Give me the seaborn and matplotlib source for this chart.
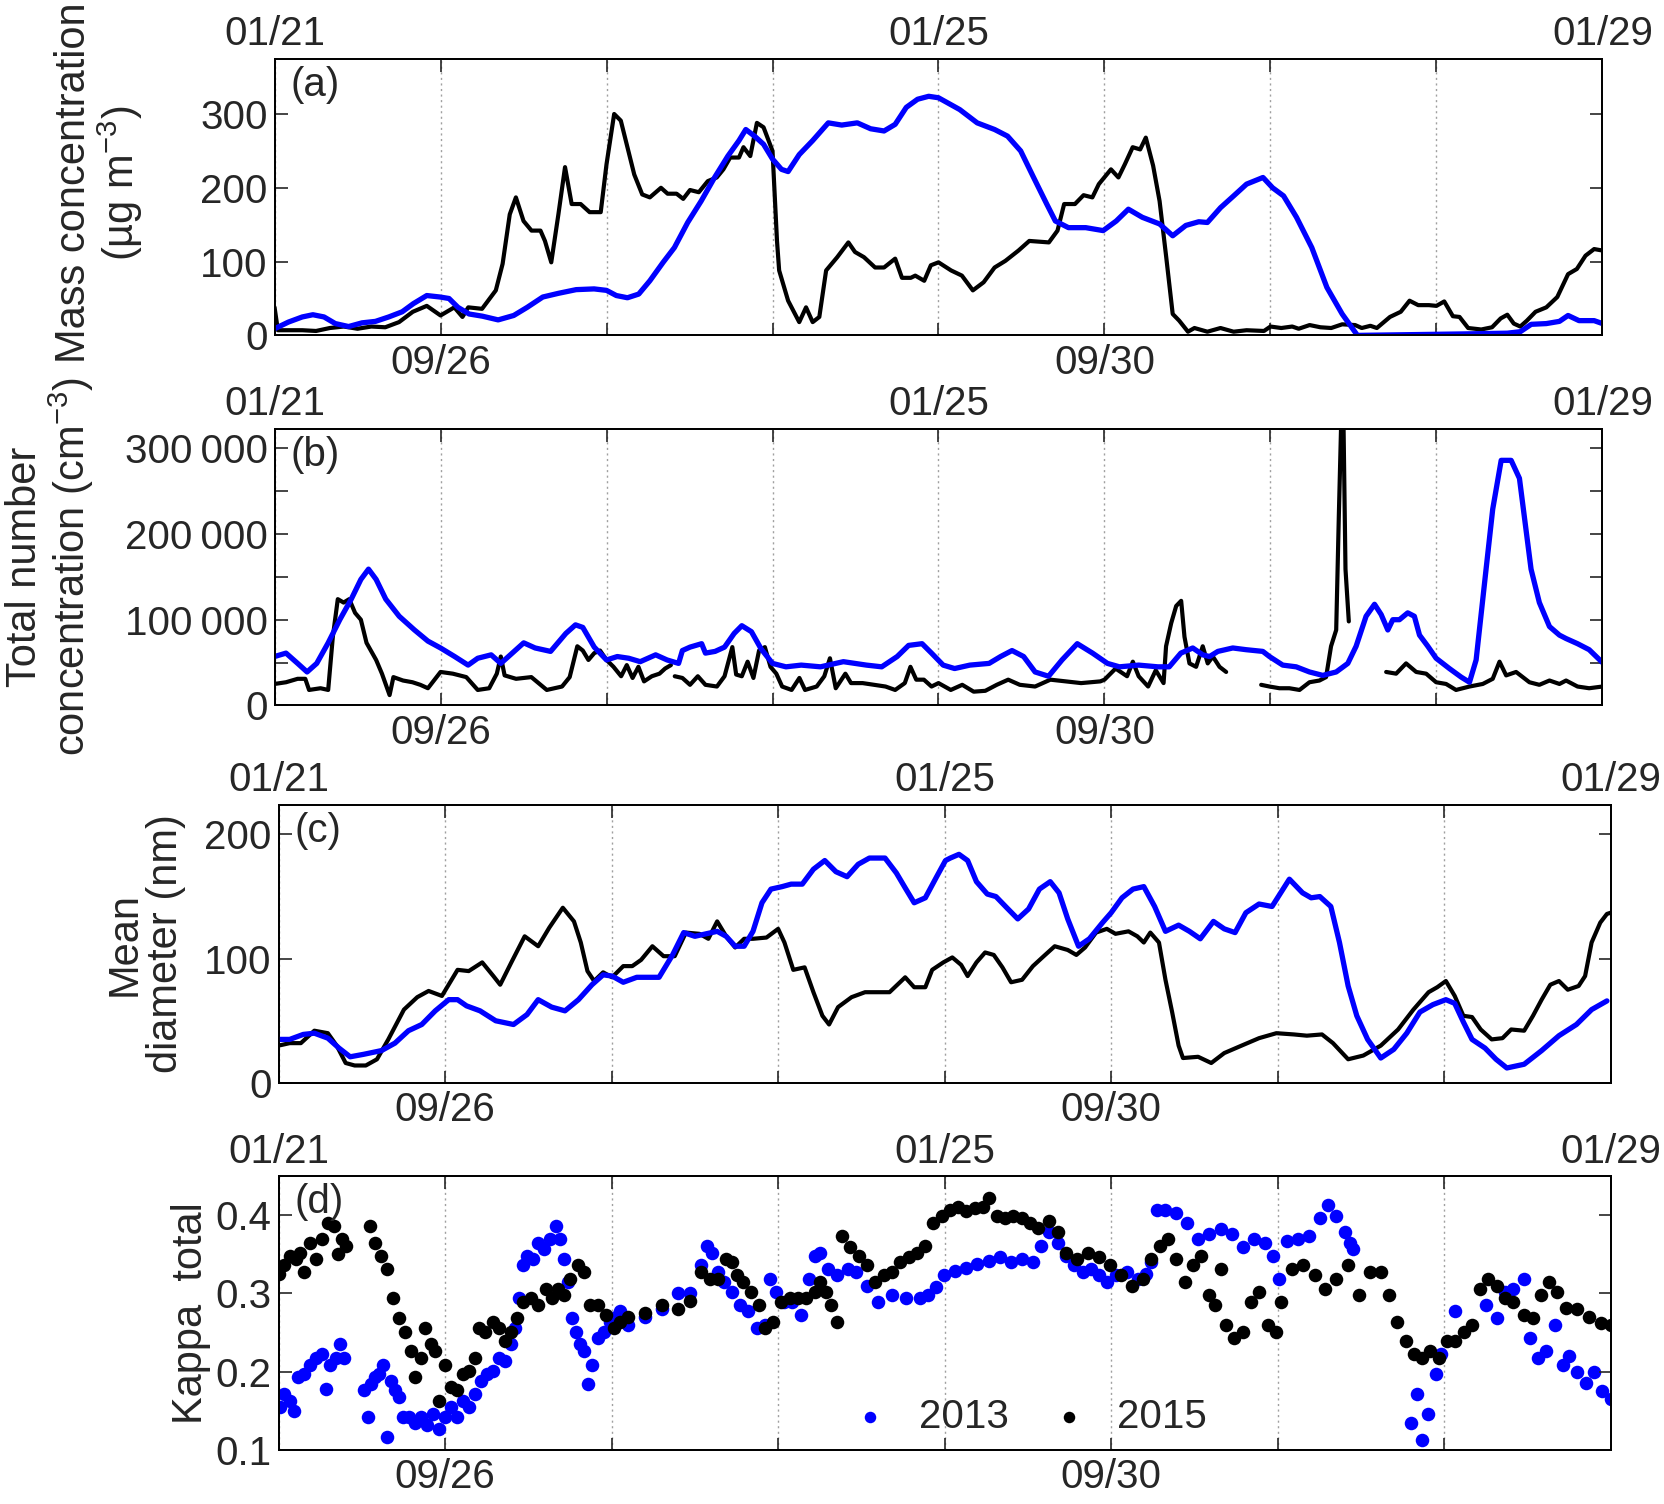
import numpy as np
import pandas as pd
import matplotlib
matplotlib.use("Agg")
import matplotlib.pyplot as plt
import matplotlib.dates as mdates
from matplotlib.ticker import MultipleLocator, FuncFormatter
import seaborn as sns

# time axis: days since the start of each campaign
START_2015 = pd.Timestamp("2015-09-25")
START_2013 = pd.Timestamp("2013-01-21")
BOTTOM_LABELS = ["09/26", "09/30"]
TOP_LABELS = ["01/21", "01/25", "01/29"]

# (a) mass concentration, ug m-3
mass_days_2015 = [0, 0.02, 0.083, 0.167, 0.25, 0.333, 0.417, 0.5, 0.583, 0.667,
                  0.75, 0.833, 0.917, 1.0, 1.083, 1.132, 1.167, 1.25, 1.333, 1.374,
                  1.417, 1.454, 1.5, 1.548, 1.602, 1.629, 1.667, 1.71, 1.75, 1.79,
                  1.844, 1.898, 1.965, 2.0, 2.046, 2.086, 2.126, 2.167, 2.215, 2.261,
                  2.328, 2.368, 2.422, 2.462, 2.503, 2.556, 2.61, 2.664, 2.704, 2.745,
                  2.798, 2.825, 2.866, 2.906, 2.946, 3.0, 3.027, 3.04, 3.094, 3.161,
                  3.202, 3.242, 3.282, 3.323, 3.39, 3.457, 3.497, 3.551, 3.618, 3.672,
                  3.739, 3.78, 3.833, 3.86, 3.914, 3.954, 4.0, 4.076, 4.141, 4.207,
                  4.272, 4.338, 4.403, 4.482, 4.547, 4.665, 4.717, 4.757, 4.822, 4.874,
                  4.927, 4.966, 5.039, 5.084, 5.123, 5.17, 5.215, 5.249, 5.293, 5.332,
                  5.372, 5.411, 5.45, 5.503, 5.542, 5.62, 5.699, 5.778, 5.856, 5.961,
                  6.0, 6.065, 6.131, 6.17, 6.236, 6.301, 6.366, 6.432, 6.51, 6.55,
                  6.602, 6.641, 6.72, 6.785, 6.838, 6.89, 6.955, 7.0, 7.047, 7.099,
                  7.139, 7.191, 7.27, 7.335, 7.387, 7.427, 7.466, 7.505, 7.545, 7.597,
                  7.662, 7.728, 7.793, 7.846, 7.898, 7.95, 8.0]
mass_2015 = [38, 7, 7, 7, 6, 10, 12, 9, 12, 11,
             18, 32, 40, 27, 38, 25, 38, 36, 61, 97,
             164, 187, 155, 142, 142, 128, 99, 164, 228, 178,
             178, 167, 167, 232, 300, 291, 255, 218, 191, 187,
             200, 192, 192, 185, 197, 194, 209, 214, 225, 241,
             241, 255, 243, 288, 282, 250, 128, 88, 47, 18,
             38, 18, 25, 88, 106, 126, 113, 106, 92, 92,
             104, 78, 78, 81, 74, 95, 99, 88, 81, 61,
             72, 92, 101, 115, 128, 126, 142, 178, 178, 190,
             187, 205, 225, 214, 232, 255, 252, 268, 230, 182,
             106, 29, 20, 5, 10, 5, 10, 5, 7, 6,
             12, 10, 12, 9, 14, 11, 10, 15, 14, 10,
             13, 10, 25, 32, 47, 41, 41, 40, 46, 26,
             25, 10, 8, 11, 23, 28, 16, 12, 20, 32,
             38, 52, 83, 90, 108, 117, 115]
mass_days_2013 = [0, 0.083, 0.167, 0.231, 0.298, 0.366, 0.446, 0.527, 0.608, 0.688,
                  0.769, 0.836, 0.917, 0.997, 1.051, 1.105, 1.172, 1.253, 1.347, 1.441,
                  1.522, 1.616, 1.71, 1.817, 1.925, 2.0, 2.059, 2.126, 2.194, 2.261,
                  2.341, 2.409, 2.489, 2.57, 2.651, 2.731, 2.798, 2.839, 2.892, 2.946,
                  3.0, 3.054, 3.094, 3.161, 3.242, 3.336, 3.417, 3.511, 3.591, 3.672,
                  3.739, 3.806, 3.874, 3.941, 4.0, 4.128, 4.233, 4.338, 4.416, 4.495,
                  4.573, 4.652, 4.704, 4.783, 4.887, 4.992, 5.071, 5.144, 5.228, 5.332,
                  5.411, 5.49, 5.568, 5.62, 5.699, 5.778, 5.856, 5.955, 6.013, 6.079,
                  6.157, 6.249, 6.34, 6.432, 6.524, 7.165, 7.427, 7.505, 7.571, 7.662,
                  7.741, 7.793, 7.859, 7.95, 8.0]
mass_2013 = [9, 18, 25, 28, 25, 16, 12, 17, 19, 25,
             32, 43, 54, 52, 50, 38, 29, 26, 21, 27,
             38, 52, 57, 62, 63, 61, 54, 51, 56, 74,
             99, 119, 153, 182, 214, 243, 264, 279, 270, 259,
             239, 225, 222, 245, 264, 288, 285, 288, 280, 277,
             286, 309, 320, 324, 322, 306, 288, 279, 270, 250,
             214, 178, 155, 146, 146, 142, 155, 171, 160, 151,
             135, 149, 154, 153, 173, 189, 205, 214, 200, 189,
             160, 119, 65, 29, 0, 2, 3, 5, 15, 16,
             19, 27, 20, 20, 16]

# (b) total number concentration, thousand cm-3 (NaN = data gap)
nan = np.nan
number_days_2015 = [0, 0.069, 0.139, 0.185, 0.208, 0.277, 0.323, 0.351, 0.381, 0.416,
                    0.45, 0.485, 0.52, 0.554, 0.612, 0.647, 0.693, 0.716, 0.774, 0.831,
                    0.878, 0.924, 1.0, 1.074, 1.155, 1.224, 1.293, 1.339, 1.363, 1.386,
                    1.455, 1.547, 1.64, 1.732, 1.778, 1.824, 1.857, 1.891, 1.926, 1.961,
                    2.0, 2.042, 2.088, 2.122, 2.157, 2.192, 2.226, 2.273, 2.319, 2.353,
                    2.388, nan, 2.411, 2.457, 2.503, 2.55, 2.596, 2.665, 2.711, 2.758,
                    2.781, 2.815, 2.85, 2.885, 2.919, 2.954, 2.988, 3.023, 3.058, 3.115,
                    3.162, 3.196, 3.266, 3.312, 3.346, 3.381, 3.439, 3.473, 3.543, 3.612,
                    3.681, 3.739, 3.797, 3.831, 3.866, 3.912, 3.958, 4.0, 4.074, 4.143,
                    4.212, 4.282, 4.351, 4.42, 4.49, 4.582, 4.674, 4.767, 4.859, 4.975,
                    5.0, 5.067, 5.136, 5.171, 5.206, 5.263, 5.309, 5.356, 5.371, 5.402,
                    5.432, 5.462, 5.482, 5.512, 5.552, 5.592, 5.622, 5.653, 5.693, 5.733,
                    nan, 5.944, 5.994, 6.054, 6.114, 6.175, 6.235, 6.295, 6.335, 6.365,
                    6.396, 6.412, 6.426, 6.44, 6.452, 6.472, nan, 6.697, 6.757, 6.817,
                    6.878, 6.938, 6.998, 7.058, 7.118, 7.199, 7.279, 7.339, 7.38, 7.42,
                    7.48, 7.56, 7.62, 7.681, 7.741, 7.781, 7.85, 7.92, 8.0]
number_2015 = [25, 27, 31, 31, 18, 20, 18, 80, 124, 120,
               124, 108, 100, 73, 53, 37, 12, 33, 29, 27,
               24, 20, 39, 37, 33, 18, 20, 37, 57, 35,
               31, 33, 18, 22, 33, 69, 64, 53, 61, 64,
               53, 45, 34, 47, 32, 45, 28, 34, 37, 43,
               47, nan, 34, 32, 24, 34, 24, 22, 34, 68,
               36, 34, 51, 32, 64, 68, 45, 37, 22, 18,
               32, 18, 22, 34, 55, 20, 37, 26, 26, 24,
               22, 18, 26, 45, 30, 30, 22, 26, 18, 24,
               16, 17, 24, 30, 24, 22, 30, 28, 26, 28,
               30, 43, 34, 51, 34, 22, 41, 26, 69, 96,
               116, 122, 80, 49, 45, 69, 49, 57, 45, 39,
               nan, 24, 22, 20, 20, 18, 27, 29, 33, 69,
               88, 222, 330, 330, 159, 98, nan, 39, 37, 49,
               39, 37, 27, 25, 18, 22, 25, 31, 51, 35,
               39, 27, 24, 29, 25, 29, 22, 20, 22]
number_days_2013 = [0, 0.069, 0.139, 0.196, 0.254, 0.323, 0.393, 0.462, 0.52, 0.566,
                    0.612, 0.67, 0.751, 0.843, 0.924, 1.0, 1.085, 1.166, 1.224, 1.305,
                    1.363, 1.432, 1.501, 1.57, 1.663, 1.755, 1.813, 1.857, 1.926, 2.0,
                    2.065, 2.134, 2.203, 2.296, 2.365, 2.434, 2.457, 2.503, 2.573, 2.596,
                    2.654, 2.711, 2.769, 2.815, 2.873, 2.931, 3.0, 3.081, 3.173, 3.289,
                    3.427, 3.566, 3.658, 3.751, 3.82, 3.901, 3.958, 4.028, 4.097, 4.189,
                    4.305, 4.374, 4.443, 4.513, 4.582, 4.663, 4.744, 4.836, 4.928, 5.018,
                    5.09, 5.206, 5.321, 5.39, 5.46, 5.532, 5.592, 5.633, 5.683, 5.773,
                    5.853, 5.954, 5.994, 6.074, 6.155, 6.235, 6.315, 6.396, 6.466, 6.516,
                    6.576, 6.627, 6.667, 6.707, 6.737, 6.777, 6.827, 6.867, 6.898, 6.948,
                    6.998, 7.078, 7.149, 7.199, 7.239, 7.299, 7.339, 7.39, 7.45, 7.5,
                    7.57, 7.62, 7.681, 7.741, 7.781, 7.85, 7.92, 8.0]
number_2013 = [57, 61, 49, 39, 49, 73, 100, 124, 147, 159,
               147, 124, 104, 88, 75, 67, 57, 47, 55, 59,
               49, 61, 73, 67, 63, 84, 94, 91, 68, 53,
               57, 55, 51, 59, 53, 49, 64, 68, 72, 61,
               63, 68, 84, 93, 86, 66, 49, 45, 47, 45,
               51, 47, 45, 57, 70, 72, 61, 47, 43, 47,
               49, 57, 64, 57, 39, 34, 53, 72, 61, 49,
               45, 47, 45, 45, 61, 67, 59, 57, 63, 67,
               65, 63, 57, 47, 45, 39, 35, 39, 49, 69,
               104, 118, 106, 88, 100, 100, 108, 104, 82, 69,
               55, 43, 33, 27, 53, 159, 229, 286, 286, 265,
               159, 120, 92, 82, 78, 72, 65, 50]

# (c) mean diameter, nm
diam_days_2015 = [0, 0.067, 0.134, 0.215, 0.296, 0.349, 0.403, 0.457, 0.524, 0.591,
                  0.659, 0.753, 0.833, 0.901, 0.981, 1.075, 1.142, 1.223, 1.29, 1.331,
                  1.398, 1.478, 1.559, 1.626, 1.707, 1.774, 1.815, 1.855, 1.895, 1.949,
                  2.003, 2.07, 2.124, 2.177, 2.245, 2.312, 2.379, 2.446, 2.527, 2.581,
                  2.634, 2.688, 2.742, 2.796, 2.849, 2.93, 3.0, 3.038, 3.091, 3.159,
                  3.212, 3.266, 3.306, 3.36, 3.441, 3.522, 3.602, 3.669, 3.763, 3.817,
                  3.884, 3.925, 3.992, 4.046, 4.099, 4.138, 4.191, 4.243, 4.295, 4.347,
                  4.399, 4.465, 4.53, 4.595, 4.661, 4.739, 4.791, 4.843, 4.909, 4.974,
                  5.026, 5.104, 5.157, 5.196, 5.235, 5.287, 5.326, 5.366, 5.405, 5.431,
                  5.522, 5.601, 5.679, 5.783, 5.888, 5.992, 6.097, 6.175, 6.266, 6.332,
                  6.423, 6.514, 6.619, 6.723, 6.815, 6.906, 6.958, 7.01, 7.063, 7.115,
                  7.167, 7.219, 7.285, 7.35, 7.402, 7.48, 7.533, 7.585, 7.637, 7.689,
                  7.742, 7.807, 7.846, 7.885, 7.937, 7.977, 8.0]
diam_2015 = [30, 32, 32, 42, 40, 30, 16, 14, 14, 19,
             35, 59, 69, 74, 70, 91, 90, 97, 86, 79,
             97, 118, 110, 125, 141, 130, 113, 90, 82, 89,
             85, 94, 94, 99, 110, 102, 102, 121, 120, 116,
             130, 118, 109, 116, 116, 117, 124, 113, 91, 93,
             73, 54, 47, 61, 69, 73, 73, 73, 85, 77,
             77, 91, 97, 101, 95, 86, 97, 105, 103, 93,
             81, 83, 94, 102, 110, 107, 103, 109, 121, 124,
             120, 122, 118, 113, 121, 113, 83, 57, 30, 20,
             21, 16, 24, 30, 36, 40, 39, 38, 39, 32,
             19, 22, 30, 43, 59, 73, 77, 82, 70, 54,
             53, 43, 35, 36, 43, 42, 54, 67, 79, 82,
             75, 78, 86, 113, 129, 136, 137]
diam_days_2013 = [0, 0.067, 0.148, 0.215, 0.296, 0.363, 0.43, 0.511, 0.618, 0.699,
                  0.78, 0.86, 0.941, 1.022, 1.075, 1.129, 1.21, 1.304, 1.411, 1.492,
                  1.559, 1.64, 1.72, 1.801, 1.882, 1.949, 2.003, 2.07, 2.151, 2.231,
                  2.285, 2.366, 2.433, 2.5, 2.567, 2.634, 2.688, 2.742, 2.796, 2.849,
                  2.903, 2.957, 3.024, 3.078, 3.145, 3.212, 3.28, 3.347, 3.414, 3.481,
                  3.548, 3.642, 3.71, 3.763, 3.817, 3.884, 3.952, 4.005, 4.034, 4.086,
                  4.138, 4.191, 4.256, 4.308, 4.373, 4.439, 4.504, 4.569, 4.634, 4.687,
                  4.739, 4.804, 4.869, 4.948, 5.0, 5.065, 5.131, 5.196, 5.261, 5.326,
                  5.405, 5.47, 5.535, 5.614, 5.679, 5.744, 5.809, 5.888, 5.966, 6.07,
                  6.149, 6.201, 6.253, 6.319, 6.371, 6.423, 6.475, 6.54, 6.619, 6.697,
                  6.775, 6.854, 6.932, 7.01, 7.063, 7.115, 7.167, 7.245, 7.311, 7.376,
                  7.48, 7.585, 7.689, 7.794, 7.885, 7.977]
diam_2013 = [35, 35, 39, 40, 36, 28, 21, 23, 26, 32,
             42, 47, 58, 67, 67, 62, 58, 50, 47, 55,
             67, 61, 58, 67, 79, 87, 86, 81, 85, 85,
             85, 103, 121, 118, 120, 122, 118, 110, 110, 122,
             145, 156, 158, 160, 160, 172, 179, 170, 166, 176,
             181, 181, 169, 157, 145, 149, 166, 179, 181, 184,
             179, 162, 152, 150, 141, 132, 140, 156, 162, 153,
             132, 110, 116, 129, 137, 149, 156, 158, 142, 122,
             127, 122, 116, 130, 124, 121, 137, 144, 142, 164,
             153, 149, 150, 142, 113, 78, 54, 35, 20, 27,
             40, 57, 63, 67, 64, 49, 35, 28, 19, 12,
             15, 26, 38, 47, 59, 66]

# (d) kappa total
kappa_days_2015 = [0, 0.033, 0.069, 0.105, 0.129, 0.153, 0.189, 0.224, 0.26, 0.296,
                   0.332, 0.356, 0.379, 0.403, 0.547, 0.582, 0.618, 0.654, 0.69, 0.726,
                   0.761, 0.797, 0.821, 0.857, 0.881, 0.916, 0.94, 0.964, 1.0, 1.036,
                   1.072, 1.107, 1.143, 1.179, 1.203, 1.239, 1.286, 1.322, 1.358, 1.394,
                   1.43, 1.465, 1.513, 1.561, 1.609, 1.644, 1.68, 1.716, 1.752, 1.8,
                   1.835, 1.871, 1.919, 1.967, 2.014, 2.05, 2.1, 2.2, 2.3, 2.4,
                   2.47, 2.539, 2.589, 2.638, 2.688, 2.721, 2.755, 2.788, 2.837, 2.887,
                   2.92, 2.97, 3.02, 3.07, 3.119, 3.169, 3.219, 3.252, 3.285, 3.318,
                   3.352, 3.385, 3.434, 3.484, 3.534, 3.584, 3.634, 3.683, 3.733, 3.783,
                   3.833, 3.882, 3.932, 3.982, 4.032, 4.081, 4.131, 4.181, 4.231, 4.264,
                   4.313, 4.363, 4.413, 4.463, 4.512, 4.562, 4.629, 4.678, 4.728, 4.794,
                   4.861, 4.927, 4.993, 5.06, 5.126, 5.192, 5.242, 5.292, 5.342, 5.391,
                   5.441, 5.491, 5.541, 5.59, 5.624, 5.657, 5.69, 5.74, 5.789, 5.839,
                   5.889, 5.939, 5.988, 6.022, 6.088, 6.154, 6.221, 6.287, 6.353, 6.42,
                   6.486, 6.552, 6.619, 6.668, 6.718, 6.768, 6.818, 6.867, 6.917, 6.967,
                   7.017, 7.066, 7.116, 7.166, 7.216, 7.265, 7.315, 7.365, 7.415, 7.481,
                   7.531, 7.58, 7.63, 7.68, 7.73, 7.8, 7.87, 7.94, 8.0]
kappa_2015 = [0.325, 0.336, 0.348, 0.344, 0.352, 0.327, 0.365, 0.344, 0.369, 0.39,
              0.386, 0.35, 0.369, 0.361, 0.386, 0.365, 0.348, 0.331, 0.294, 0.268,
              0.251, 0.226, 0.193, 0.218, 0.256, 0.235, 0.226, 0.163, 0.209, 0.18,
              0.176, 0.197, 0.201, 0.218, 0.256, 0.251, 0.264, 0.256, 0.239, 0.251,
              0.268, 0.289, 0.294, 0.285, 0.306, 0.294, 0.306, 0.298, 0.319, 0.336,
              0.327, 0.285, 0.285, 0.272, 0.256, 0.264, 0.27, 0.275, 0.285, 0.28,
              0.29, 0.327, 0.319, 0.319, 0.344, 0.34, 0.323, 0.315, 0.302, 0.285,
              0.256, 0.264, 0.289, 0.294, 0.294, 0.294, 0.302, 0.315, 0.302, 0.285,
              0.264, 0.373, 0.359, 0.348, 0.336, 0.315, 0.323, 0.327, 0.34, 0.346,
              0.352, 0.361, 0.39, 0.399, 0.407, 0.411, 0.405, 0.409, 0.411, 0.422,
              0.399, 0.397, 0.399, 0.397, 0.39, 0.384, 0.392, 0.378, 0.352, 0.344,
              0.352, 0.346, 0.336, 0.323, 0.31, 0.319, 0.344, 0.361, 0.369, 0.344,
              0.315, 0.336, 0.348, 0.298, 0.285, 0.331, 0.26, 0.243, 0.251, 0.289,
              0.302, 0.26, 0.251, 0.289, 0.331, 0.336, 0.323, 0.306, 0.319, 0.336,
              0.298, 0.327, 0.327, 0.298, 0.264, 0.239, 0.222, 0.218, 0.226, 0.218,
              0.239, 0.239, 0.251, 0.26, 0.306, 0.319, 0.31, 0.294, 0.289, 0.272,
              0.268, 0.298, 0.315, 0.302, 0.281, 0.28, 0.27, 0.262, 0.26]
kappa_days_2013 = [0.01, 0.033, 0.069, 0.093, 0.117, 0.153, 0.189, 0.224, 0.26, 0.284,
                   0.308, 0.344, 0.368, 0.391, 0.511, 0.535, 0.558, 0.582, 0.606, 0.63,
                   0.654, 0.678, 0.702, 0.726, 0.749, 0.785, 0.821, 0.857, 0.893, 0.928,
                   0.964, 1.0, 1.036, 1.072, 1.107, 1.143, 1.179, 1.215, 1.251, 1.286,
                   1.322, 1.358, 1.394, 1.418, 1.442, 1.465, 1.489, 1.525, 1.561, 1.597,
                   1.632, 1.668, 1.692, 1.716, 1.74, 1.764, 1.788, 1.811, 1.835, 1.859,
                   1.883, 1.919, 1.955, 1.99, 2.026, 2.05, 2.1, 2.2, 2.3, 2.4,
                   2.47, 2.539, 2.572, 2.605, 2.639, 2.672, 2.721, 2.771, 2.821, 2.871,
                   2.92, 2.954, 2.987, 3.036, 3.086, 3.136, 3.186, 3.219, 3.252, 3.302,
                   3.352, 3.418, 3.468, 3.534, 3.6, 3.683, 3.766, 3.849, 3.899, 3.949,
                   3.998, 4.065, 4.131, 4.197, 4.264, 4.33, 4.396, 4.463, 4.529, 4.579,
                   4.629, 4.678, 4.728, 4.778, 4.828, 4.877, 4.927, 4.977, 5.027, 5.093,
                   5.159, 5.209, 5.242, 5.275, 5.325, 5.391, 5.458, 5.524, 5.59, 5.657,
                   5.723, 5.789, 5.856, 5.922, 5.972, 6.005, 6.055, 6.121, 6.187, 6.254,
                   6.303, 6.353, 6.403, 6.436, 6.453, 6.801, 6.834, 6.867, 6.9, 6.95,
                   6.983, 7.066, 7.249, 7.315, 7.365, 7.415, 7.481, 7.514, 7.564, 7.614,
                   7.663, 7.713, 7.75, 7.8, 7.85, 7.9, 7.95, 8.0]
kappa_2013 = [0.155, 0.172, 0.163, 0.15, 0.193, 0.197, 0.209, 0.218, 0.222, 0.178,
              0.209, 0.218, 0.235, 0.218, 0.176, 0.142, 0.184, 0.193, 0.197, 0.209,
              0.117, 0.188, 0.176, 0.167, 0.142, 0.142, 0.134, 0.142, 0.132, 0.146,
              0.127, 0.142, 0.155, 0.142, 0.163, 0.155, 0.172, 0.188, 0.197, 0.201,
              0.218, 0.214, 0.235, 0.256, 0.294, 0.336, 0.348, 0.344, 0.365, 0.357,
              0.369, 0.386, 0.369, 0.344, 0.315, 0.268, 0.251, 0.235, 0.226, 0.184,
              0.209, 0.243, 0.251, 0.264, 0.27, 0.277, 0.26, 0.27, 0.28, 0.3,
              0.3, 0.336, 0.361, 0.352, 0.327, 0.315, 0.302, 0.285, 0.277, 0.256,
              0.26, 0.319, 0.302, 0.289, 0.289, 0.272, 0.319, 0.348, 0.352, 0.331,
              0.323, 0.331, 0.327, 0.31, 0.289, 0.298, 0.294, 0.294, 0.298, 0.308,
              0.323, 0.329, 0.333, 0.338, 0.342, 0.346, 0.34, 0.344, 0.34, 0.361,
              0.378, 0.365, 0.348, 0.336, 0.327, 0.331, 0.323, 0.315, 0.323, 0.327,
              0.319, 0.325, 0.34, 0.407, 0.407, 0.403, 0.39, 0.369, 0.376, 0.382,
              0.376, 0.359, 0.369, 0.365, 0.348, 0.319, 0.367, 0.369, 0.373, 0.397,
              0.413, 0.399, 0.378, 0.365, 0.357, 0.134, 0.172, 0.113, 0.146, 0.197,
              0.222, 0.277, 0.285, 0.268, 0.302, 0.306, 0.319, 0.243, 0.218, 0.226,
              0.26, 0.209, 0.22, 0.2, 0.185, 0.2, 0.175, 0.165]

TICK_FS = 29
LABEL_FS = 30


def to_frame(days, values, start):
    """Turn day offsets and values into a frame with a segment id per unbroken run"""
    days = np.asarray(days, dtype=float)
    values = np.asarray(values, dtype=float)
    df = pd.DataFrame({"time": start + pd.to_timedelta(days, unit="D"),
                       "value": values,
                       "seg": np.cumsum(np.isnan(values))})
    return df.dropna()


def date_formatter(keep):
    def fmt(v, pos):
        s = mdates.num2date(v).strftime("%m/%d")
        return s if s in keep else ""
    return FuncFormatter(fmt)


def style_axes(ax, ax2, grid_ax):
    ax.set_xlim(START_2015, START_2015 + pd.Timedelta(days=8))
    ax2.set_xlim(START_2013, START_2013 + pd.Timedelta(days=8))
    for a, keep in ((ax, BOTTOM_LABELS), (ax2, TOP_LABELS)):
        a.xaxis.set_major_locator(mdates.DayLocator())
        a.xaxis.set_major_formatter(date_formatter(keep))
        a.set_xlabel("")
    ax.tick_params(axis="x", which="both", direction="in", length=9, width=1.2,
                   labelsize=TICK_FS, pad=6, top=False, bottom=True)
    ax2.tick_params(axis="x", which="both", direction="in", length=9, width=1.2,
                    labelsize=TICK_FS, pad=4, top=True, bottom=False)
    ax.tick_params(axis="y", which="both", direction="in", length=9, width=1.2,
                   labelsize=TICK_FS, pad=5, left=True, right=True)
    grid_ax.grid(axis="x", linestyle=(0, (1.5, 2.5)), color="#a0a0a0", linewidth=1.0)
    grid_ax.set_axisbelow(True)
    for a in (ax, ax2):
        for sp in a.spines.values():
            sp.set_color("black")
            sp.set_linewidth(1.3)


sns.set_theme(style="white")
plt.rcParams["font.family"] = ["Liberation Sans", "DejaVu Sans"]
plt.rcParams["mathtext.fontset"] = "custom"
plt.rcParams["mathtext.rm"] = "Liberation Sans"
plt.rcParams["mathtext.default"] = "regular"

fig = plt.figure(figsize=(16.64, 15.04), dpi=100)
boxes = [[0.165, 0.777, 0.798, 0.184],
         [0.165, 0.531, 0.798, 0.184],
         [0.1674, 0.280, 0.8006, 0.185],
         [0.1674, 0.036, 0.8006, 0.182]]
axes = [fig.add_axes(b) for b in boxes]
twins = [a.twiny() for a in axes]

line_sets = [
    (mass_days_2015, mass_2015, mass_days_2013, mass_2013),
    (number_days_2015, np.array(number_2015) * 1000, number_days_2013, np.array(number_2013) * 1000),
    (diam_days_2015, diam_2015, diam_days_2013, diam_2013),
]
for ax, ax2, (d15, v15, d13, v13) in zip(axes[:3], twins[:3], line_sets):
    sns.lineplot(data=to_frame(d15, v15, START_2015), x="time", y="value", units="seg",
                 estimator=None, color="black", lw=3.0, ax=ax, legend=False)
    sns.lineplot(data=to_frame(d13, v13, START_2013), x="time", y="value", units="seg",
                 estimator=None, color="#0000ff", lw=3.8, ax=ax2, legend=False)
    style_axes(ax, ax2, ax)

# (d) scatter, 2015 drawn above 2013
ax, ax2 = axes[3], twins[3]
sns.scatterplot(data=to_frame(kappa_days_2013, kappa_2013, START_2013), x="time", y="value",
                color="#0000ff", s=95, linewidth=0, ax=ax2, label="2013", legend=False)
sns.scatterplot(data=to_frame(kappa_days_2015, kappa_2015, START_2015), x="time", y="value",
                color="black", s=95, linewidth=0, ax=ax, label="2015", legend=False)
ax.set_zorder(ax2.get_zorder() + 1)
ax.patch.set_visible(False)
ax2.patch.set_visible(True)
ax2.patch.set_facecolor("white")
style_axes(ax, ax2, ax2)
h13, l13 = ax2.get_legend_handles_labels()
h15, l15 = ax.get_legend_handles_labels()
ax.legend(h13 + h15, ["2013", "2015"], loc="center", bbox_to_anchor=(0.563, 0.12), ncol=2,
          frameon=False, fontsize=TICK_FS, markerscale=0.85, handlelength=1.0,
          handletextpad=0.7, columnspacing=1.0)

# y axes
axes[0].set_ylim(0, 375)
axes[0].yaxis.set_major_locator(MultipleLocator(100))
axes[1].set_ylim(0, 323000)
axes[1].yaxis.set_major_locator(MultipleLocator(100000))
axes[1].yaxis.set_minor_locator(MultipleLocator(50000))
axes[1].yaxis.set_major_formatter(FuncFormatter(lambda v, p: f"{int(round(v)):,}".replace(",", "\u2009")))
axes[2].set_ylim(0, 224)
axes[2].yaxis.set_major_locator(MultipleLocator(100))
axes[3].set_ylim(0.1, 0.45)
axes[3].yaxis.set_major_locator(MultipleLocator(0.1))
axes[3].yaxis.set_major_formatter(FuncFormatter(lambda v, p: f"{v:.1f}"))

ylabels = ["Mass concentration\n(\u00b5g m$^{-3}$)",
           "Total number\nconcentration (cm$^{-3}$)",
           "Mean\ndiameter (nm)",
           "Kappa  total"]
label_xy = [(-0.1316, 0.55), (-0.1687, 0.5), (-0.1001, 0.5), (-0.0654, 0.5)]
for ax, text, (lx, ly) in zip(axes, ylabels, label_xy):
    ax.set_ylabel(text, fontsize=LABEL_FS, va="center", ha="center", linespacing=1.05)
    ax.yaxis.set_label_coords(lx, ly)

for ax, letter in zip(axes, ["(a)", "(b)", "(c)", "(d)"]):
    ax.text(0.012, 0.975, letter, transform=ax.transAxes, ha="left", va="top", fontsize=29, zorder=10)

fig.savefig("out.png", dpi=100)
